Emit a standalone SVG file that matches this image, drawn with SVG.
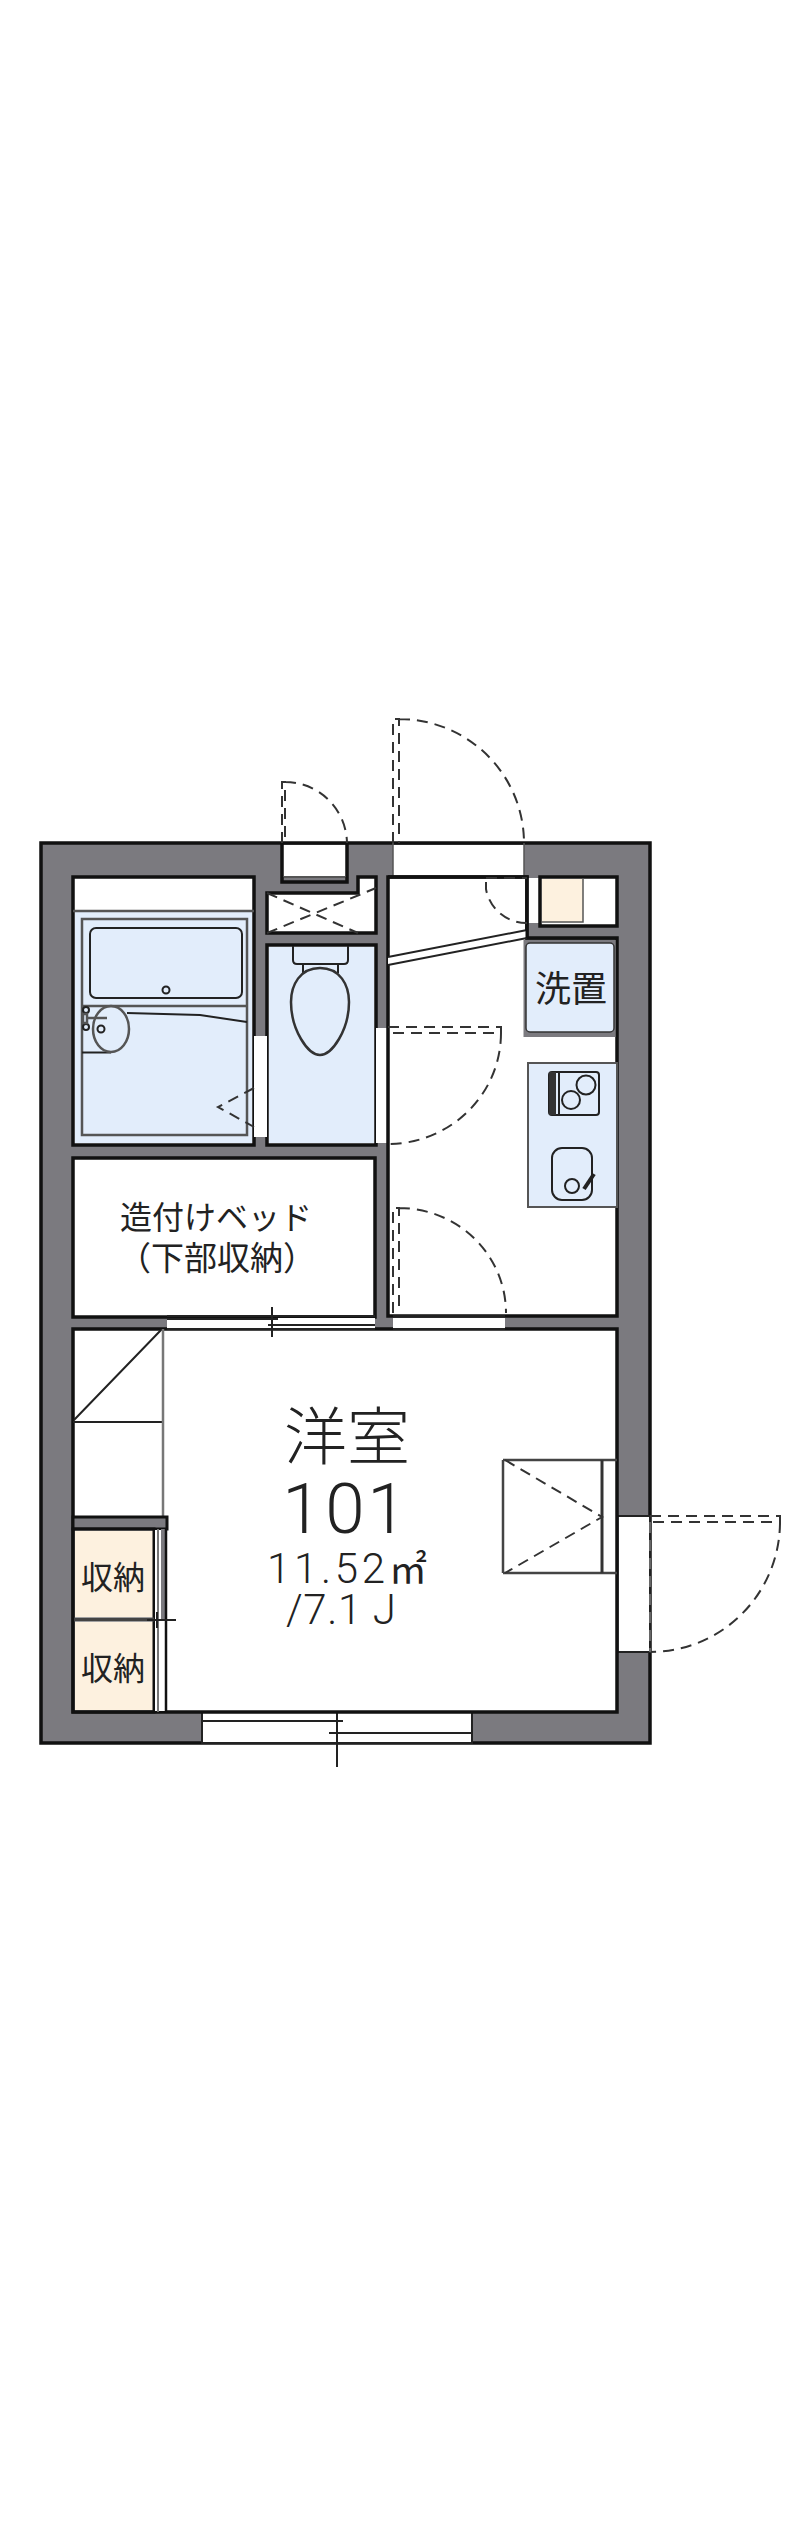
<svg xmlns="http://www.w3.org/2000/svg" width="800" height="2541" viewBox="0 0 800 2541">
<style>
.w{fill:#7b7a7f;stroke:#111;stroke-width:3.5}
.r{fill:#fff;stroke:#111;stroke-width:3.5}
.o{fill:#fff;stroke:none}
.b{fill:#e2edfb}
.y{fill:#fdf1df}
.l{fill:none;stroke:#222;stroke-width:2}
.g{fill:none;stroke:#555;stroke-width:2.5}
.k{fill:none;stroke:#111;stroke-width:3.5}
.d{fill:none;stroke:#333;stroke-width:2;stroke-dasharray:11 7}
text{font-family:"Noto Sans CJK JP","Noto Sans",sans-serif;fill:#222;text-anchor:middle}
.n{font-family:Roboto,"Liberation Sans",sans-serif;font-weight:300}
</style>
<rect width="800" height="2541" fill="#fff"/>
<g id="walls">
<rect class="w" x="41" y="843" width="609" height="900"/>
</g>
<g id="bath">
<rect class="r" x="73" y="877" width="181" height="268"/>
<rect class="b" x="75" y="911" width="177" height="232"/>
<line class="g" x1="73" y1="911" x2="254" y2="911"/>
<rect class="g" x="82" y="919" width="165" height="216"/>
<rect class="l" x="90" y="928" width="152" height="70" rx="6"/>
<circle class="l" cx="166" cy="990" r="3.5"/>
<line class="g" x1="82" y1="1006" x2="247" y2="1006"/>
<path class="l" d="M127 1013L200 1015L247 1022"/>
<path class="l" d="M82 1052.500H111"/>
<ellipse class="g" cx="111" cy="1029" rx="18" ry="23"/>
<circle class="l" cx="86" cy="1010" r="3"/>
<circle class="l" cx="86" cy="1027" r="3"/>
<rect class="g" x="83" y="1014" width="4" height="9"/>
<path class="g" d="M88 1018H107"/>
<circle class="l" cx="101" cy="1029" r="3.500"/>
</g>
<g id="closet">
<path class="r" d="M267 893H358V877H376V933H267Z"/>
<path class="d" d="M267 893L358 933M267 933L376 888"/>
</g>
<g id="toilet">
<rect class="r" x="267" y="945" width="109" height="200"/>
<rect class="b" x="269" y="947" width="105" height="196"/>
<path class="l" d="M293 946V960Q293 964 297 964H344Q348 964 348 960V946"/>
<path class="l" d="M303 964V973M338 964V973"/>
<path class="g" style="stroke:#333" d="M320 968C340 968 349 985 349 1002C349 1030 332 1055 320 1055C308 1055 291 1030 291 1002C291 985 300 968 320 968Z"/>
</g>
<g id="openings">
<rect class="o" x="254" y="1036" width="13" height="101"/>
<rect class="o" x="376" y="1028" width="12" height="115"/>
<path class="d" d="M254 1088L218 1107L254 1127"/>
<rect class="o" x="282" y="845" width="65" height="32"/>
<path class="k" d="M282 843V882H347V843"/>
<line x1="284" y1="877" x2="345" y2="877" stroke="#555" stroke-width="2"/>
<line class="k" x1="282" y1="843" x2="347" y2="843" style="stroke-width:2"/>
<rect class="o" x="393" y="845" width="131" height="33"/>
<line class="k" x1="393" y1="843" x2="524" y2="843" style="stroke-width:2"/>
<line x1="393" y1="843" x2="393" y2="877" stroke="#555" stroke-width="1.500"/>
<line x1="524" y1="843" x2="524" y2="877" stroke="#555" stroke-width="1.500"/>
<rect class="o" x="619" y="1516" width="30" height="136"/>
<path class="l" d="M617 1516H650V1652H617"/>
<rect class="o" x="202" y="1712" width="270" height="30"/>
<path class="l" d="M202 1712H472V1743H202Z"/>
<path class="l" d="M202 1721H343M329 1733H472M337 1693V1767"/>
</g>
<g id="hall">
<path class="r" d="M388 877H527V938H617V1316H388Z"/>
<path class="o" d="M390 879H525V936H390Z"/>
<rect x="523.500" y="940" width="92" height="97" fill="#7b7a7f"/>
<rect x="526" y="943" width="88" height="89" rx="4" class="b" stroke="#333" stroke-width="1.500"/>
<rect x="528" y="1063" width="89" height="144" class="b" stroke="#555" stroke-width="2"/>
<rect x="549" y="1072" width="50" height="43" rx="3" class="l"/>
<rect x="549" y="1072" width="7" height="43" fill="#333"/>
<line class="l" x1="559" y1="1073" x2="559" y2="1114"/>
<circle class="l" cx="586" cy="1085" r="9.500"/>
<circle class="l" cx="571" cy="1100" r="9"/>
<rect x="552" y="1148" width="40" height="52" rx="10" class="l"/>
<circle class="l" cx="572" cy="1186" r="7"/>
<line x1="584" y1="1189" x2="594" y2="1174" stroke="#222" stroke-width="4"/>
<path class="w" d="M527 923H540V926H617V938H527Z" style="stroke:none"/>
<rect class="o" x="527" y="878" width="14" height="45"/>
<path class="k" d="M388 877H527V938H617"/>
<path class="o" d="M388 957L527 930V938L388 965Z"/>
<path class="l" d="M388 957L527 930M388 965L527 938"/>
<path class="k" d="M527 877V938" style="stroke-width:3"/>
<path class="d" d="M486 878H527M486 882V889A41 41 0 0 0 527 923"/>
<path class="d" d="M282 843V782H285V843M285 782A62 62 0 0 1 347 843"/>
<path class="d" d="M393 843V719H399V843M399 719A125 124 0 0 1 524 843"/>
<path class="d" d="M388 1027H501V1033H388M501 1033A113 111 0 0 1 388 1144"/>
<path class="d" d="M393 1313V1208H399V1313M399 1208A107 105 0 0 1 506 1313"/>
<path class="d" d="M650 1516H780V1522H650M780 1522A130 130 0 0 1 650 1652"/>
<path class="d" d="M650 1522V1652" style="stroke:#666"/>
</g>
<g id="meter">
<rect class="r" x="540" y="877" width="77" height="49"/>
<rect class="y" x="542" y="879" width="41" height="43"/>
<path class="g" d="M542 922H583V878" style="stroke-width:1.500"/>
</g>
<g id="bed">
<rect class="r" x="73" y="1158" width="302" height="159"/>
</g>
<g id="main">
<rect class="r" x="73" y="1329" width="544" height="383"/>
<rect class="o" x="167" y="1318" width="208" height="12"/>
<path class="l" d="M167 1316H375M167 1319H278M268 1325H375M167 1329H375M272 1307V1337"/>
<rect class="o" x="393" y="1318" width="112" height="12"/>
<path class="l" d="M393 1316H505M393 1329H505"/>
<path class="l" d="M161 1330L74 1420M73 1422H163"/>
<line class="g" x1="163" y1="1329" x2="163" y2="1517" style="stroke:#777"/>
<path class="w" d="M73 1517H167V1529H73Z" style="stroke-width:3"/>
<rect class="y" x="75" y="1531" width="78" height="86"/>
<rect class="y" x="75" y="1622" width="78" height="88"/>
<rect class="k" x="73" y="1529" width="81" height="183" style="stroke-width:3"/>
<line x1="74" y1="1619.500" x2="154" y2="1619.500" stroke="#444" stroke-width="4"/>
<rect class="o" x="155" y="1530" width="10" height="181"/>
<rect x="161" y="1529" width="5" height="92" fill="#7b7a7f"/>
<line class="l" x1="158" y1="1529" x2="158" y2="1712" style="stroke:#777"/>
<line class="k" x1="166" y1="1529" x2="166" y2="1712" style="stroke-width:2.500"/>
<path class="l" d="M147 1620H176M157 1612V1628"/>
<path class="g" d="M503 1460H617M503 1573H617M503 1460V1573" style="stroke:#444"/>
<line x1="602" y1="1460" x2="602" y2="1573" stroke="#333" stroke-width="3"/>
<path class="d" d="M505 1460L602 1517L505 1573"/>
</g>
<g id="labels">
<text x="571" y="1002" font-size="36">洗置</text>
<text x="216" y="1229" font-size="32">造付けベッド</text>
<text x="217" y="1270" font-size="33">（下部収納）</text>
<text x="113" y="1589" font-size="32">収納</text>
<text x="113" y="1680" font-size="32">収納</text>
<text x="347" y="1459" font-size="63" style="font-weight:300">洋室</text>
<text class="n" x="302 345 387" y="1533" font-size="71">101</text>
<text class="n" x="326" y="1583" font-size="42" textLength="118" lengthAdjust="spacing">11.52</text>
<text x="408" y="1583" font-size="38">㎡</text>
<text class="n" x="341" y="1624" font-size="42" textLength="110" lengthAdjust="spacing">/7.1 J</text>
</g>
</svg>
